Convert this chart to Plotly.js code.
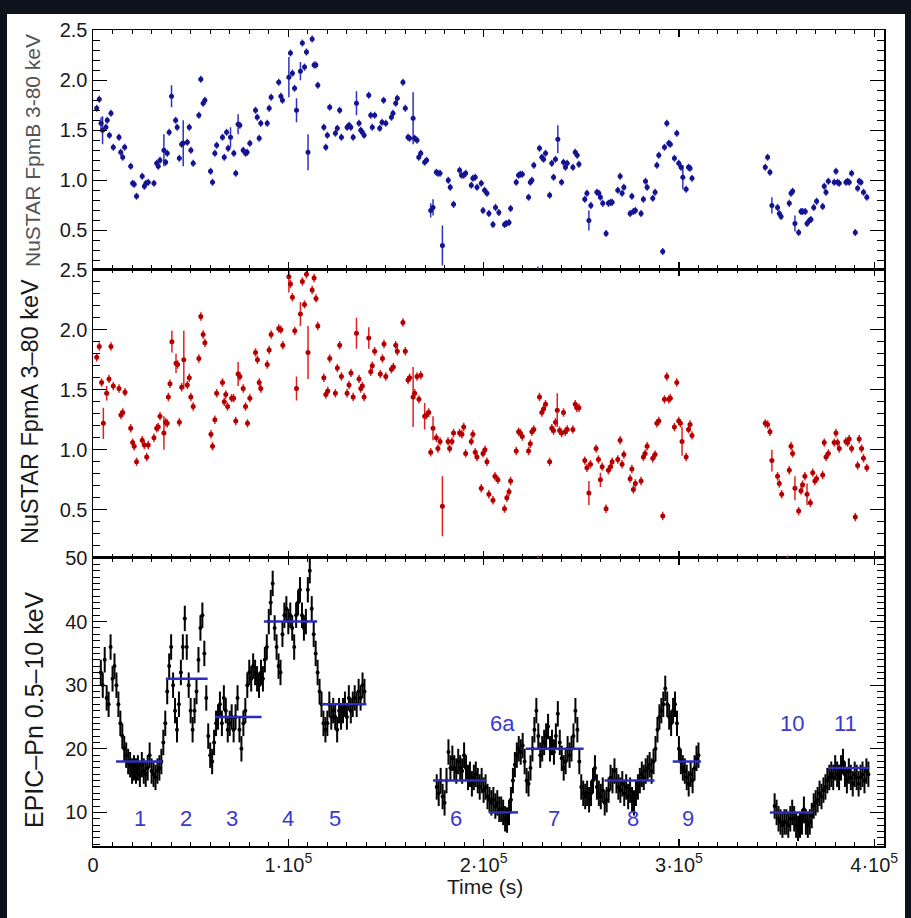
<!DOCTYPE html>
<html>
<head>
<meta charset="utf-8">
<script src="https://cdn.plot.ly/plotly-3.0.1.min.js"></script>
<style>
  html, body { margin: 0; padding: 0; background: #0d131d; }
  #chart { width: 911px; height: 918px; }
</style>
</head>
<body>
<div id="chart"></div>
<script>
// ---------------- DATA (time in ks) ----------------
// NuSTAR FpmB 3-80 keV (top panel)
const tB = [
  1.9, 3.2, 4.1, 4.9, 6.6, 7.3, 8.4, 9.2, 10.4,
  13.3, 14.2, 15.2, 16.2,
  19.3, 20.3, 21.1, 22.3,
  25.2, 26.3, 27.1, 28.3,
  31.2, 32.6, 33.4, 34.3,
  36.3, 37.2, 38.0, 39.0, 40.2,
  42.3, 43.1, 44.2, 45.4, 46.2,
  48.3, 49.3, 50.1, 51.3,
  54.2, 55.2, 56.4, 57.3,
  60.2, 61.2, 62.4, 63.3,
  66.3, 67.2, 68.4, 69.2, 70.4,
  72.1, 73.1, 74.3, 75.2,
  76.9, 78.1, 78.9, 80.3,
  83.2, 84.1, 85.1, 85.9,
  89.2, 90.2, 91.2,
  95.1, 96.2, 97.0,
  100.3, 101.1, 102.1, 103.2, 104.2,
  106.2, 107.2, 108.3, 109.3, 110.1,
  112.2, 113.2, 114.1, 115.1,
  118.2, 119.2, 120.0, 121.2,
  124.1, 125.1, 126.3, 127.2,
  130.1, 131.1, 132.0, 133.2,
  134.9, 136.2, 137.1, 137.9, 138.8,
  141.2, 142.2, 143.0, 144.2,
  146.8, 148.0, 148.8, 149.9,
  152.8, 153.6, 155.0, 155.8,
  158.7, 159.9, 161.3, 162.1,
  163.9, 164.7, 165.9, 166.8, 167.8,
  169.8, 170.8, 172.9, 174.1,
  175.8, 176.6, 177.7, 178.9,
  181.9, 182.9, 184.6,
  187.7, 188.7, 189.8, 190.8,
  193.7, 194.5, 195.7, 196.6,
  198.8, 199.7, 200.5, 201.7, 202.7,
  204.8, 206.1, 207.8,
  210.7, 211.6, 213.0, 213.8,
  216.7, 217.9, 218.8, 219.8,
  223.0, 223.9, 224.7, 225.7,
  227.8, 228.6, 229.8, 230.7, 231.7,
  233.8, 234.9, 235.8, 236.8, 238.0,
  239.9, 240.9, 241.9, 242.8,
  245.7, 246.9, 247.9, 248.8,
  251.8, 252.9, 253.9, 254.9,
  258.0, 259.0, 259.8, 261.0,
  262.7, 263.9, 265.0, 265.8,
  268.7, 269.9, 270.9, 271.8,
  275.0, 275.9, 276.7, 277.7,
  280.6, 281.8, 282.9, 283.7,
  286.6, 287.8, 288.7, 289.7,
  291.7, 292.6, 293.8, 294.8, 295.6,
  297.7, 298.9, 299.9, 301.1, 302.0,
  303.7, 304.9, 305.7, 306.7,
  344.2, 345.4, 346.6, 347.6,
  350.5, 351.4, 352.3,
  356.5, 357.4, 358.2, 359.4,
  361.3, 362.5, 363.3, 364.7,
  365.6, 366.8, 367.6, 369.0, 370.5,
  373.6, 374.4, 375.3, 376.5,
  379.5, 380.4, 381.2, 382.1,
  385.5, 386.4, 387.2, 388.4,
  390.3, 391.5, 392.3, 393.2, 394.5, 396.2
];
const vB = [
  1.72, 1.81, 1.57, 1.50, 1.53, 1.60, 1.45, 1.67, 1.33,
  1.43, 1.28, 1.23, 1.33,
  1.14, 0.97, 0.96, 0.84,
  1.04, 0.94, 0.97, 0.98,
  0.97, 1.17, 1.14, 1.20,
  1.30, 1.18, 1.27, 1.48, 1.84,
  1.60, 1.53, 1.22, 1.36, 1.37,
  1.38, 1.53, 1.30, 1.17,
  1.65, 2.01, 1.77, 1.80,
  1.09, 0.98, 1.27, 1.35,
  1.43, 1.23, 1.48, 1.32, 1.43,
  1.27, 1.07, 1.56, 1.55,
  1.30, 1.27, 1.28, 1.37,
  1.70, 1.63, 1.42, 1.57,
  1.57, 1.72, 1.83,
  1.98, 1.84, 1.80,
  2.03, 2.27, 2.07, 1.92, 1.70,
  2.09, 2.37, 2.13, 2.28, 1.28,
  2.41, 2.15, 2.15, 1.95,
  1.53, 1.33, 1.45, 1.73,
  1.47, 1.52, 1.70, 1.43,
  1.53, 1.55, 1.53, 1.43,
  1.77, 1.57, 1.50, 1.48, 1.45,
  1.85, 1.65, 1.53, 1.65,
  1.52, 1.58, 1.80, 1.57,
  1.63, 1.67, 1.77, 1.82,
  1.98, 1.72, 1.43, 1.42,
  1.62, 1.42, 1.40, 1.23, 1.27,
  1.18, 1.20, 0.70, 0.73,
  1.08, 1.07, 1.07, 0.35,
  1.00, 0.93, 0.76,
  1.10, 1.05, 1.05, 1.07,
  0.95, 1.02, 1.03, 0.93,
  0.97, 0.70, 0.90, 0.87, 0.67,
  0.56, 0.73, 0.68,
  0.56, 0.57, 0.58, 0.72,
  0.98, 1.05, 1.06, 1.06,
  0.83, 0.98, 1.00, 1.15,
  0.05, 1.32, 1.23, 1.21, 1.27,
  0.85, 1.17, 1.03, 1.21, 1.41,
  0.98, 1.18, 1.13, 1.17,
  1.13, 1.28, 1.25, 1.16,
  0.81, 0.87, 0.60, 0.75,
  0.88, 0.87, 0.83, 0.77,
  0.47, 0.77, 0.78, 0.78,
  0.90, 1.04, 0.87, 0.93,
  0.67, 0.84, 0.69, 0.70,
  0.67, 0.81, 0.99, 0.93,
  0.82, 0.88, 1.15, 1.25,
  0.29, 1.33, 1.57, 1.37, 1.36,
  1.22, 1.47, 1.17, 1.13, 1.03,
  0.91, 1.13, 1.12, 1.02,
  1.13, 1.23, 1.08, 0.75,
  0.73, 0.67, 0.64,
  0.77, 0.87, 0.89, 0.57,
  0.48, 0.69, 0.69, 0.69,
  0.57, 0.60, 0.61, 0.73, 0.79,
  0.74, 0.94, 0.88, 0.99,
  0.98, 1.09, 0.98, 0.97,
  0.98, 0.99, 0.98, 1.07,
  0.48, 0.92, 0.99, 0.98, 0.88, 0.83
];
const errDefaultB = 0.035;
const errLargeB = {4.1:0.06, 4.9:0.14, 36.3:0.16, 40.2:0.11, 46.2:0.23, 70.4:0.1, 74.3:0.1,
  100.3:0.2, 104.2:0.12, 106.2:0.09, 110.1:0.18, 134.9:0.12, 163.9:0.26, 172.9:0.07,
  174.1:0.08, 178.9:0.2, 227.8:0.09, 238:0.14, 253.9:0.1, 302:0.12, 347.6:0.08, 359.4:0.08};

// NuSTAR FpmA 3-80 keV (middle panel)
const tA = [
  1.9, 3.2, 4.4, 5.3, 7.0, 8.2, 9.2, 10.4,
  13.3, 14.3, 15.2, 16.4,
  19.3, 20.3, 21.1, 22.3,
  25.2, 26.3, 27.5, 28.3,
  31.2, 32.6, 33.4, 34.3,
  36.3, 37.2, 38.0, 38.6, 39.4, 40.4,
  42.5, 43.3, 44.2, 45.4, 46.5,
  48.3, 49.3, 50.1, 51.3,
  54.2, 55.2, 56.4, 57.3,
  60.4, 61.2, 62.4, 63.3,
  66.3, 67.2, 68.0, 68.9,
  71.0, 72.0, 73.1, 74.3, 75.2,
  76.9, 78.1, 79.1, 80.3,
  83.2, 84.2, 85.1, 85.9,
  89.2, 90.2, 91.2,
  95.1, 96.2, 97.2,
  100.3, 101.1, 102.1, 103.3, 104.2,
  106.2, 107.2, 108.3, 109.3, 110.1,
  112.2, 113.2, 114.2, 115.1,
  118.2, 119.2, 120.2, 121.2,
  124.1, 125.1, 126.3, 127.2,
  130.1, 131.1, 132.1, 133.2,
  134.9, 136.2, 137.1, 137.9, 138.8,
  141.2, 142.2, 143.0, 144.2,
  147.1, 148.2, 149.0, 149.9,
  152.8, 153.8, 155.0, 155.8,
  158.7, 159.9, 161.3, 162.1,
  163.9, 164.7, 165.9, 166.9, 167.8,
  169.8, 170.8, 171.9, 172.9, 174.1,
  175.8, 176.6, 177.7, 178.9,
  181.8, 182.6, 183.8, 184.6,
  187.7, 188.9, 189.8, 190.8,
  193.7, 194.5, 195.7, 196.6,
  198.8, 199.7, 200.7, 201.7, 202.7,
  204.8, 205.8, 207.3,
  210.7, 211.9, 213.0, 213.8,
  216.7, 217.9, 218.8, 219.8,
  223.0, 223.9, 224.7, 225.7,
  227.8, 228.6, 229.8, 230.7, 231.7,
  233.8, 234.9, 235.8, 236.8, 237.7,
  238.9, 239.9, 240.9, 241.8, 242.8,
  245.7, 246.9, 247.7, 248.8,
  251.8, 252.9, 253.9, 254.7,
  257.6, 258.8, 259.8, 260.7,
  262.7, 263.9, 265.0, 265.8,
  268.7, 269.9, 270.9, 271.8,
  275.0, 275.9, 276.7, 277.7,
  280.6, 281.8, 282.7, 283.7,
  286.6, 287.8, 288.7, 289.7,
  291.7, 292.6, 293.8, 294.8, 295.6,
  297.7, 298.9, 299.9, 300.8, 301.6,
  303.7, 304.9, 305.7, 306.7,
  344.2, 345.4, 346.6, 347.6,
  350.5, 351.4, 352.6,
  355.5, 356.5, 357.4, 358.2, 359.4,
  361.3, 362.5, 363.3, 364.5,
  365.6, 367.3, 368.5, 369.6, 370.5,
  373.6, 374.4, 375.3, 376.5,
  379.5, 380.4, 381.2, 382.1,
  385.5, 386.4, 387.2, 388.4,
  390.3, 391.5, 392.3, 393.5, 394.5, 396.2
];
const vA = [
  1.77, 1.86, 1.56, 1.22, 1.47, 1.59, 1.86, 1.53,
  1.51, 1.29, 1.31, 1.48,
  1.18, 1.06, 1.03, 0.90,
  1.08, 1.04, 0.94, 1.04,
  1.10, 1.18, 1.19, 1.28,
  1.14, 1.23, 1.22, 1.44, 1.55, 1.90,
  1.72, 1.71, 1.23, 1.52, 1.75,
  1.54, 1.60, 1.44, 1.36,
  1.76, 2.11, 1.96, 1.89,
  1.13, 1.03, 1.25, 1.47,
  1.56, 1.40, 1.46, 1.36,
  1.43, 1.43, 1.24, 1.63, 1.61,
  1.51, 1.36, 1.22, 1.43,
  1.81, 1.75, 1.56, 1.51,
  1.71, 1.83, 1.96,
  2.01, 2.00, 1.87,
  2.44, 2.38, 2.27, 1.99, 1.51,
  2.13, 2.40, 2.21, 2.46, 1.81,
  2.33, 2.43, 2.26, 2.03,
  1.60, 1.46, 1.49, 1.76,
  1.47, 1.68, 1.87, 1.61,
  1.47, 1.54, 1.64, 1.44,
  1.97, 1.59, 1.51, 1.53, 1.44,
  1.93, 1.65, 1.70, 1.82,
  1.63, 1.76, 1.88, 1.61,
  1.67, 1.69, 1.87, 1.82,
  2.06, 1.82, 1.58, 1.60,
  1.44, 1.47, 1.61, 1.42, 1.62,
  1.28, 1.29, 1.31, 0.98, 1.18,
  1.10, 1.01, 1.07, 0.53,
  1.07, 1.01, 1.07, 1.14,
  1.14, 1.13, 1.19, 0.97,
  1.07, 1.13, 0.98, 0.94,
  0.68, 0.97, 1.00, 0.90, 0.63,
  0.58, 0.78, 0.75,
  0.51, 0.60, 0.65, 0.74,
  0.99, 1.15, 1.14, 1.11,
  0.99, 1.05, 1.15, 1.17,
  0.02, 1.44, 1.31, 1.34, 1.38,
  0.90, 1.18, 1.16, 1.23, 1.33,
  1.16, 1.14, 1.31, 1.15, 1.17,
  1.17, 1.38, 1.35, 1.35,
  0.91, 0.85, 0.64, 0.88,
  1.01, 0.92, 0.75, 0.86,
  0.51, 0.83, 0.86, 0.90,
  0.92, 1.08, 0.88, 0.96,
  0.76, 0.84, 0.67, 0.72,
  0.74, 0.94, 0.97, 1.03,
  0.93, 0.96, 1.22, 1.24,
  0.45, 1.42, 1.61, 1.42, 1.43,
  1.19, 1.56, 1.24, 1.22, 1.07,
  0.94, 1.17, 1.21, 1.12,
  1.22, 1.21, 1.15, 0.91,
  0.78, 0.72, 0.63,
  0.00, 0.83, 1.03, 0.97, 0.68,
  0.49, 0.66, 0.71, 0.78,
  0.63, 0.56, 0.81, 0.74, 0.76,
  0.79, 1.06, 0.94, 0.97,
  1.06, 1.14, 1.06, 1.01,
  1.07, 1.06, 1.09, 1.01,
  0.44, 0.87, 1.09, 1.01, 0.93, 0.85
];
const errDefaultA = 0.035;
const errLargeA = {5.3:0.13, 7:0.06, 36.3:0.14, 40.4:0.09, 42.5:0.08, 46.5:0.24, 74.3:0.1,
  100.3:0.13, 104.2:0.1, 106.2:0.1, 110.1:0.22, 134.9:0.13, 141.2:0.09, 163.9:0.25,
  169.8:0.11, 174.1:0.1, 178.9:0.25, 227.8:0.1, 237.7:0.14, 253.9:0.1, 259.8:0.06,
  301.6:0.12, 347.6:0.09, 355.5:0.12, 359.4:0.1, 365.6:0.09};

// EPIC-pn 0.5-10 keV, 1 ks bins; three exposures
const epicStart = [4, 176, 349];   // ks, first bin of each exposure
const epicBin = 1;                 // ks
const epicErr = 2.0;
const epic1 = [
  32,30,34,28,27,36,31,33,30,27,
  24,22,20,19,18,17.5,16.5,17,16.5,17,
  16,17.5,16.5,16,17,19,16.5,16,15.5,16.5,
  17,18,21,24,29,33,36,30,26,23,
  27,32,36,40.5,36,30,26,23,26,29,
  34,39,41,35,28,22,19,18,21,24,
  25,27,24,28,26,23,24,25,23,25,
  28,23,20,24,26,30,32,31,33,32,
  31,30,32,31,34,36,40,43,46,39,
  36,33,32,38,41,42,40,41,39,36,
  41,43,45,41,39,40,45,48,42,38,
  35,32,29,27,24,23,24,27,25,26,
  25,23,26,25,26,27,25,28,26,27,
  28,27,29,28,30,29
];
const epic2 = [
  14,13,15,12.5,11.5,15,19.5,17,18.5,17,
  16.5,18,17,16.5,19,17,15.5,16,14.5,15.5,
  16,15,14,15,13.5,14,12.5,12,11.5,12,
  11,11.5,10.5,10.5,10,9,8.8,10,12,15,
  17.5,19,20,19.5,20.5,18,15,14.5,17,20,
  23,26,22,19,20,21,22,23.5,20,21,
  19.5,22,25.5,21,18.5,17,18,20,19,20,
  22,26,23,18,14,13,12.5,13,12,13,
  15,17,14,13,12.5,13.5,11.5,12,13.5,15.5,
  15,16.5,15,14,13.5,14.5,13,14,12.5,13.5,
  12,11.5,13,14,15,16,15.5,16.5,17,17.5,
  16.5,18,20,23,25,26,27,29.5,27,25,
  24,26,27,24,20,18,17,16.5,15.5,14.5,
  16,15,17,18.5,19
];
const epic3 = [
  11,10,9,8.5,8,8.5,8.5,8,9,10,
  9,8,7.5,8,8.5,10.5,8.5,8,8.5,9.5,
  11,11.5,12,13,12.5,13.5,14,15,15.5,16,
  15.5,17,16,15.5,17,18,16,15,16.5,15.5,
  14.5,16,15.5,14.5,15.5,16,15,16.5,16
];

// Mean-rate intervals (segments)
const segName  = ['1','2','3','4','5','6','6a','7','8','9','10','11'];
const segStart = [11.8, 37.3, 62.4, 87.5, 117.0, 174.1, 202.7, 221.5, 261.9, 296.8, 346.6, 376.6];
const segEnd   = [35.6, 58.7, 86.3, 114.8, 140.0, 201.4, 217.6, 251.2, 287.5, 311.3, 368.4, 397.4];
const segLevel = [18, 31, 25, 40, 27, 15, 10, 20, 15, 18, 10, 17];
// label anchor (data coords)
const segLabelT = [24.1, 47.6, 71.2, 99.9, 123.9, 185.9, 209.5, 236.1, 276.6, 304.7, 358.0, 385.2];
const segLabelV = [9.1, 9.1, 9.1, 9.1, 9.1, 9.1, 24, 9.1, 9.1, 9.1, 24, 24];

const xTickVals = [0, 100, 200, 300, 400];
const xTickText = ['0', '1·10<sup>5</sup>', '2·10<sup>5</sup>', '3·10<sup>5</sup>', '4·10<sup>5</sup>'];

// ---------------- BUILD ----------------
const W = 911, H = 918, ML = 93, MR = 27, MT = 30, MB = 72;
const PW = W - ML - MR, PH = H - MT - MB;
const fx = px => (px - ML) / PW;
const fy = py => (H - MB - py) / PH;

const errB = tB.map(t => (errLargeB[t] !== undefined ? errLargeB[t] : errDefaultB));
const errA = tA.map(t => (errLargeA[t] !== undefined ? errLargeA[t] : errDefaultA));

const epicT = [], epicV = [];
[epic1, epic2, epic3].forEach((seg, k) => {
  seg.forEach((v, i) => { epicT.push(epicStart[k] + i * epicBin); epicV.push(v); });
});

const segX = [], segY = [];
segStart.forEach((s, i) => { segX.push(s, segEnd[i], null); segY.push(segLevel[i], segLevel[i], null); });

const traces = [
  {
    x: tB, y: vB, xaxis: 'x3', yaxis: 'y3', type: 'scatter', mode: 'markers',
    marker: { size: 5, color: '#14148e' },
    error_y: { type: 'data', array: errB, visible: true, thickness: 1.5, width: 0, color: '#3030c4' },
    error_x: { type: 'constant', value: 0.5, visible: true, thickness: 1.5, width: 0, color: '#3030c4' },
    hoverinfo: 'skip'
  },
  {
    x: tA, y: vA, xaxis: 'x2', yaxis: 'y2', type: 'scatter', mode: 'markers',
    marker: { size: 5, color: '#b40000' },
    error_y: { type: 'data', array: errA, visible: true, thickness: 1.5, width: 0, color: '#e02020' },
    error_x: { type: 'constant', value: 0.5, visible: true, thickness: 1.5, width: 0, color: '#e02020' },
    hoverinfo: 'skip'
  },
  {
    x: epicT, y: epicV, xaxis: 'x', yaxis: 'y', type: 'scatter', mode: 'markers',
    marker: { size: 4, color: '#000' },
    error_y: { type: 'constant', value: epicErr, visible: true, thickness: 2, width: 0, color: '#000' },
    error_x: { type: 'constant', value: 0.6, visible: true, thickness: 2, width: 0, color: '#000' },
    hoverinfo: 'skip'
  },
  {
    x: segX, y: segY, xaxis: 'x', yaxis: 'y', type: 'scatter', mode: 'lines',
    line: { color: '#2c2cc0', width: 2.5 }, hoverinfo: 'skip'
  }
];

const tickFont = { family: 'Liberation Sans, Arial, sans-serif', size: 20, color: '#1a1a1a' };

function xAxis(anchor, labels) {
  return {
    domain: [0, 1], anchor: anchor, range: [0, 405], fixedrange: true,
    showline: true, linecolor: '#000', linewidth: 1.5, mirror: 'ticks',
    ticks: 'inside', ticklen: 7, tickwidth: 1.2, tickcolor: '#000',
    tickmode: 'array', tickvals: xTickVals, ticktext: xTickText,
    showticklabels: labels, tickfont: tickFont,
    minor: { ticks: 'inside', ticklen: 4, tickwidth: 1, tickcolor: '#000', tickmode: 'linear', tick0: 0, dtick: 10 },
    showgrid: false, zeroline: false
  };
}
function yAxis(anchor, domain, range, dtick, mdtick, fmt) {
  return {
    domain: domain, anchor: anchor, range: range, fixedrange: true,
    showline: true, linecolor: '#000', linewidth: 1.5, mirror: 'ticks',
    ticks: 'inside', ticklen: 14, tickwidth: 1.2, tickcolor: '#000',
    tickmode: 'linear', tick0: 0, dtick: dtick, tickformat: fmt,
    tickfont: tickFont,
    minor: { ticks: 'inside', ticklen: 7, tickwidth: 1, tickcolor: '#000', tickmode: 'linear', tick0: 0, dtick: mdtick },
    showgrid: false, zeroline: false
  };
}

const annotations = [];
segName.forEach((n, i) => {
  annotations.push({
    x: segLabelT[i], y: segLabelV[i], xref: 'x', yref: 'y', text: n, showarrow: false,
    xanchor: 'center', yanchor: 'middle',
    font: { family: 'Liberation Sans, Arial, sans-serif', size: 22, color: '#3a3ad0' }
  });
});
annotations.push(
  { x: fx(32), y: fy(151), xref: 'paper', yref: 'paper', text: 'NuSTAR FpmB 3-80 keV', textangle: -90,
    showarrow: false, xanchor: 'center', yanchor: 'middle',
    font: { family: 'Liberation Sans, Arial, sans-serif', size: 21, color: '#555' } },
  { x: fx(30), y: fy(412), xref: 'paper', yref: 'paper', text: 'NuSTAR FpmA 3–80 keV', textangle: -90,
    showarrow: false, xanchor: 'center', yanchor: 'middle',
    font: { family: 'Liberation Sans, Arial, sans-serif', size: 23.5, color: '#1a1a1a' } },
  { x: fx(34), y: fy(710), xref: 'paper', yref: 'paper', text: 'EPIC–Pn 0.5–10 keV', textangle: -90,
    showarrow: false, xanchor: 'center', yanchor: 'middle',
    font: { family: 'Liberation Sans, Arial, sans-serif', size: 25, color: '#1a1a1a' } },
  { x: fx(485), y: fy(886), xref: 'paper', yref: 'paper', text: 'Time (s)',
    showarrow: false, xanchor: 'center', yanchor: 'middle',
    font: { family: 'Liberation Sans, Arial, sans-serif', size: 21, color: '#1a1a1a' } }
);

const layout = {
  width: W, height: H,
  margin: { l: ML, r: MR, t: MT, b: MB, pad: 0 },
  paper_bgcolor: '#0d131d', plot_bgcolor: '#ffffff',
  showlegend: false,
  xaxis: xAxis('y', true),
  xaxis2: xAxis('y2', false),
  xaxis3: xAxis('y3', false),
  yaxis: yAxis('x', [0, 0.353], [4.72, 50.005], 10, 1, 'd'),
  yaxis2: yAxis('x2', [0.353, 0.7065], [0.1, 2.5005], 0.5, 0.1, '.1f'),
  yaxis3: yAxis('x3', [0.7065, 1], [0.11, 2.5005], 0.5, 0.1, '.1f'),
  shapes: [
    { type: 'rect', xref: 'paper', yref: 'paper', layer: 'below',
      x0: fx(7), x1: fx(905), y0: fy(918), y1: fy(14),
      fillcolor: '#ffffff', line: { width: 0 } }
  ],
  annotations: annotations
};

Plotly.newPlot('chart', traces, layout, { displayModeBar: false, staticPlot: true });
</script>
</body>
</html>
